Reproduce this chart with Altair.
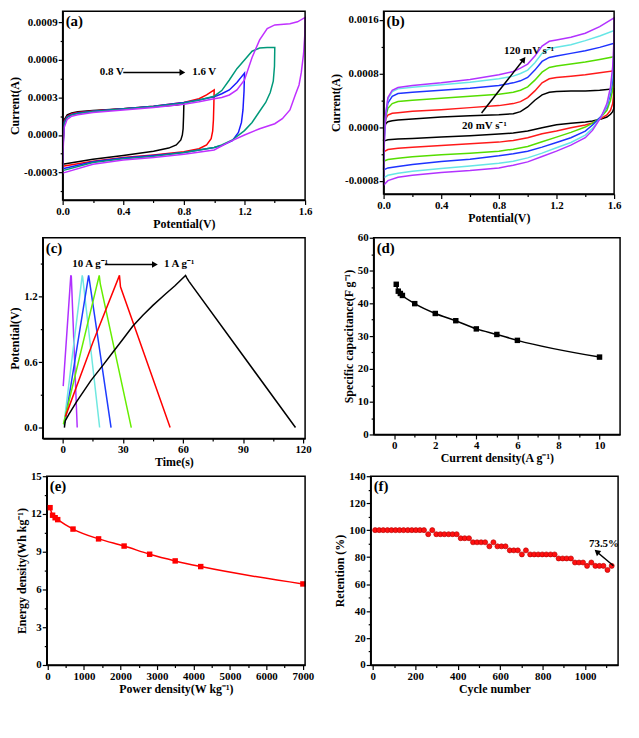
import altair as alt
import pandas as pd

FONT = "Liberation Serif"
MINUS = "\u2212"

# ---------------- (a) CV at different potential windows ----------------
a_names = ["0.8 V", "1.0 V", "1.2 V", "1.4 V", "1.6 V"]
a_colors = ["#000000", "#ff0000", "#1a1aff", "#00997a", "#c030ff"]
a_v = {
    "0.8 V": [0.0, 0.003, 0.01, 0.03, 0.06, 0.1, 0.2, 0.4, 0.6, 0.75, 0.8, 0.798, 0.795, 0.79, 0.78, 0.75, 0.7, 0.6, 0.4, 0.2, 0.0],
    "1.0 V": [0.0, 0.003, 0.01, 0.03, 0.06, 0.1, 0.2, 0.4, 0.6, 0.8, 0.9, 0.95, 1.0, 0.998, 0.995, 0.99, 0.98, 0.95, 0.9, 0.8, 0.6, 0.4, 0.2, 0.0],
    "1.2 V": [0.0, 0.003, 0.01, 0.03, 0.06, 0.1, 0.2, 0.4, 0.6, 0.8, 0.9, 1.0, 1.05, 1.1, 1.15, 1.2, 1.197, 1.19, 1.18, 1.16, 1.12, 1.05, 1.0, 0.8, 0.6, 0.4, 0.2, 0.0],
    "1.4 V": [0.0, 0.003, 0.01, 0.03, 0.06, 0.1, 0.2, 0.4, 0.6, 0.8, 0.9, 1.0, 1.05, 1.1, 1.15, 1.2, 1.25, 1.3, 1.35, 1.4, 1.398, 1.39, 1.37, 1.34, 1.3, 1.25, 1.2, 1.12, 1.05, 1.0, 0.8, 0.6, 0.4, 0.2, 0.0],
    "1.6 V": [0.0, 0.003, 0.01, 0.03, 0.06, 0.1, 0.2, 0.4, 0.6, 0.8, 0.9, 1.0, 1.05, 1.1, 1.15, 1.2, 1.25, 1.3, 1.35, 1.4, 1.5, 1.55, 1.6, 1.598, 1.59, 1.575, 1.56, 1.535, 1.5, 1.45, 1.4, 1.3, 1.2, 1.1, 1.0, 0.8, 0.6, 0.4, 0.2, 0.0],
}
# currents in units of 1e-4 A
a_i = {
    "0.8 V": [-2.35, -0.5, 1.2, 1.6, 1.75, 1.85, 1.95, 2.1, 2.25, 2.4, 2.5, 1.5, 0.5, 0.0, -0.4, -0.8, -1.05, -1.3, -1.65, -1.95, -2.35],
    "1.0 V": [-2.5, -0.6, 1.1, 1.5, 1.7, 1.8, 1.92, 2.1, 2.3, 2.6, 2.9, 3.2, 3.6, 2.5, 1.2, 0.3, -0.3, -0.8, -1.1, -1.35, -1.6, -1.8, -2.1, -2.5],
    "1.2 V": [-2.7, -0.8, 1.0, 1.45, 1.65, 1.75, 1.9, 2.1, 2.3, 2.6, 2.8, 3.05, 3.3, 3.6, 4.2, 4.95, 3.5, 2.0, 1.0, 0.2, -0.45, -0.85, -1.0, -1.4, -1.65, -1.85, -2.15, -2.7],
    "1.4 V": [-2.85, -0.9, 0.9, 1.4, 1.6, 1.72, 1.88, 2.08, 2.28, 2.55, 2.8, 3.1, 3.55, 4.4, 5.3, 6.0, 6.7, 6.95, 7.0, 7.0, 5.5, 4.3, 3.4, 2.6, 1.9, 1.0, 0.35, -0.4, -0.8, -1.0, -1.4, -1.7, -1.9, -2.2, -2.85],
    "1.6 V": [-3.05, -1.2, 0.6, 1.25, 1.5, 1.62, 1.8, 2.0, 2.2, 2.45, 2.65, 2.9, 3.0, 3.2, 3.6, 4.4, 6.2, 7.6, 8.5, 8.8, 8.9, 9.05, 9.4, 8.0, 6.5, 5.0, 4.0, 3.2, 2.0, 1.3, 0.9, 0.5, 0.0, -0.55, -1.2, -1.55, -1.8, -2.0, -2.35, -3.05],
}
a_xticks = [0.0, 0.2, 0.4, 0.6, 0.8, 1.0, 1.2, 1.4, 1.6]
a_yticks = [-0.00045, -0.0003, -0.00015, 0.0, 0.00015, 0.0003, 0.00045, 0.0006, 0.00075, 0.0009]

# ---------------- (b) CV at different scan rates ----------------
b_names = ["20", "40", "60", "80", "100", "120"]
b_colors = ["#000000", "#ff1a1a", "#55dd00", "#1e33ff", "#66e6e6", "#b233ff"]
b_up_v = [0.0, 0.005, 0.015, 0.03, 0.06, 0.1, 0.2, 0.4, 0.6, 0.8, 0.9, 0.95, 1.0, 1.05, 1.1, 1.15, 1.2, 1.3, 1.4, 1.5, 1.6]
b_dn_v = [1.6, 1.598, 1.59, 1.575, 1.55, 1.51, 1.45, 1.4, 1.3, 1.2, 1.1, 1.0, 0.9, 0.8, 0.6, 0.4, 0.2, 0.1, 0.03, 0.0]
# currents in units of 1e-4 A
b_up_i = {
    "20": [-2.1, -0.5, 0.5, 0.8, 0.95, 1.05, 1.2, 1.5, 1.7, 1.85, 2.0, 2.3, 3.0, 4.0, 4.8, 5.2, 5.3, 5.4, 5.4, 5.5, 5.7],
    "40": [-3.7, -0.5, 1.2, 1.8, 2.05, 2.15, 2.35, 2.6, 2.9, 3.2, 3.5, 3.8, 4.4, 5.4, 6.6, 7.2, 7.4, 7.6, 7.8, 8.1, 8.4],
    "60": [-5.1, -1.0, 1.5, 2.8, 3.5, 3.8, 4.0, 4.3, 4.6, 4.9, 5.2, 5.5, 6.0, 7.0, 8.2, 8.9, 9.1, 9.4, 9.7, 10.1, 10.5],
    "80": [-6.4, -1.5, 1.8, 3.6, 4.6, 5.0, 5.2, 5.5, 5.8, 6.2, 6.6, 6.9, 7.4, 8.5, 9.8, 10.4, 10.6, 11.0, 11.4, 11.9, 12.5],
    "100": [-7.6, -2.0, 2.0, 4.2, 5.3, 5.7, 5.95, 6.3, 6.7, 7.2, 7.6, 8.0, 8.5, 9.6, 11.0, 11.7, 11.9, 12.3, 12.9, 13.6, 14.4],
    "120": [-8.7, -2.5, 2.0, 4.4, 5.5, 5.9, 6.2, 6.6, 7.1, 7.8, 8.3, 8.8, 9.4, 10.6, 12.1, 12.8, 13.0, 13.4, 14.0, 15.0, 16.3],
}
b_dn_i = {
    "20": [3.5, 2.8, 2.3, 1.9, 1.5, 1.2, 0.9, 0.75, 0.55, 0.35, -0.1, -0.6, -0.9, -1.05, -1.3, -1.5, -1.7, -1.8, -1.9, -2.1],
    "40": [7.0, 5.0, 3.5, 2.5, 1.8, 1.3, 0.6, 0.3, -0.1, -0.6, -1.0, -1.6, -2.0, -2.25, -2.5, -2.75, -3.0, -3.15, -3.35, -3.7],
    "60": [10.5, 8.0, 5.5, 4.0, 2.5, 1.5, 0.6, 0.0, -0.8, -1.5, -2.2, -2.9, -3.3, -3.6, -3.9, -4.15, -4.45, -4.65, -4.85, -5.1],
    "80": [12.5, 9.5, 7.0, 5.0, 3.0, 1.6, 0.3, -0.6, -1.6, -2.3, -3.0, -3.6, -4.0, -4.3, -4.8, -5.15, -5.6, -5.9, -6.1, -6.4],
    "100": [14.4, 11.0, 8.0, 5.5, 3.2, 1.5, -0.2, -1.2, -2.3, -3.1, -3.9, -4.6, -5.1, -5.4, -5.8, -6.2, -6.6, -6.9, -7.2, -7.6],
    "120": [16.3, 12.5, 9.0, 6.0, 3.5, 1.5, -0.5, -1.6, -2.7, -3.6, -4.4, -5.2, -5.7, -6.1, -6.5, -6.8, -7.2, -7.5, -8.0, -8.7],
}
b_yticks = [-0.0008, -0.0004, 0.0, 0.0004, 0.0008, 0.0012, 0.0016]

# ---------------- (c) GCD curves ----------------
c_names = ["10", "8", "6", "4", "2", "1"]
c_colors = ["#b030ff", "#70e8e0", "#1e3cff", "#66ee00", "#ff0000", "#000000"]
c_t = {
    "10": [0.2, 4.0, 4.25, 7.2],
    "8": [0.5, 9.7, 9.95, 18.4],
    "6": [1.0, 12.9, 13.2, 24.1],
    "4": [0.3, 18.2, 18.7, 34.2],
    "2": [1.3, 15.0, 28.3, 28.8, 53.6],
    "1": [0.8, 1.2, 3, 7, 14, 20, 25, 30, 35, 40, 45, 51, 56, 61.3, 62.0, 63.0, 116.2],
}
c_v = {
    "10": [0.38, 1.395, 1.385, 0.0],
    "8": [0.02, 1.395, 1.375, 0.0],
    "6": [0.04, 1.395, 1.36, 0.0],
    "4": [0.03, 1.395, 1.32, 0.0],
    "2": [0.1, 0.78, 1.395, 1.29, 0.0],
    "1": [0.0, 0.06, 0.12, 0.24, 0.43, 0.57, 0.69, 0.81, 0.93, 1.03, 1.12, 1.22, 1.30, 1.395, 1.37, 1.34, 0.0],
}
c_xticks = [0, 15, 30, 45, 60, 75, 90, 105, 120]
c_yticks = [0.0, 0.3, 0.6, 0.9, 1.2, 1.5]

# ---------------- (d) specific capacitance ----------------
d_x = [0.1, 0.2, 0.3, 0.4, 1, 2, 3, 4, 5, 6, 10]
d_y = [45.8, 43.7, 43.0, 42.4, 39.9, 36.9, 34.7, 32.2, 30.5, 28.7, 23.6]
d_xticks = [0, 1, 2, 3, 4, 5, 6, 7, 8, 9, 10]
d_yticks = [0, 5, 10, 15, 20, 25, 30, 35, 40, 45, 50, 55, 60]

# ---------------- (e) Ragone ----------------
e_x = [70, 140, 210, 280, 700, 1400, 2100, 2800, 3500, 4200, 7000]
e_y = [12.5, 11.9, 11.7, 11.55, 10.8, 10.02, 9.45, 8.8, 8.27, 7.82, 6.44]
e_xticks = [0, 500, 1000, 1500, 2000, 2500, 3000, 3500, 4000, 4500, 5000, 5500, 6000, 6500, 7000]
e_yticks = [0, 1.5, 3, 4.5, 6, 7.5, 9, 10.5, 12, 13.5, 15]

# ---------------- (f) cycling ----------------
f_x = [11, 30, 49, 69, 88, 107, 126, 145, 165, 184, 203, 222, 241, 261, 280, 299, 318, 337, 357, 376,
       395, 414, 433, 453, 472, 491, 510, 529, 549, 568, 587, 606, 625, 645, 664, 683, 702, 721, 741, 760,
       779, 798, 817, 837, 856, 875, 894, 913, 933, 952, 971, 990, 1009, 1029, 1048, 1067, 1086, 1105, 1125]
f_y = [100, 100, 100, 100, 100, 100, 100, 100, 100, 100, 100, 100, 100, 97, 100, 97, 97, 97, 97, 97,
       97, 94, 94, 94, 91, 91, 91, 91, 88, 91, 88, 88, 88, 85, 85, 85, 82, 85, 82, 82,
       82, 82, 82, 82, 82, 79, 79, 79, 79, 76, 76, 76, 73.5, 76, 73.5, 73.5, 73.5, 70.5, 73.5]
f_xticks = [0, 100, 200, 300, 400, 500, 600, 700, 800, 900, 1000, 1100]
f_yticks = [0, 10, 20, 30, 40, 50, 60, 70, 80, 90, 100, 110, 120, 130, 140]


def ax(title, values, step, fmt, offset=0):
    t = f"abs(datum.value/{step}-round(datum.value/{step}))<1e-6"
    return alt.Axis(
        title=title, values=values, grid=False, labelFlush=False, labelOverlap=False,
        labelExpr=f"{t} ? replace(format(datum.value,'{fmt}'),'{MINUS}','-') : ''",
        tickSize={"condition": {"test": t, "value": 4.5}, "value": 2.5},
        offset=offset)


class Panel:
    """One framed panel; the plot frame starts `s` px left of the layout origin."""

    def __init__(self, xdom, ydom, xa, ya, W, H, s):
        self.W, self.H, self.s = W, H, s
        self.xs = alt.Scale(domain=xdom, range=[-s, W], nice=False, zero=False)
        self.ys = alt.Scale(domain=ydom, nice=False, zero=False)
        self.xa = ax(*xa)
        self.ya = ax(*ya, offset=s)

    def X(self, f="x:Q"):
        return alt.X(f, scale=self.xs, axis=self.xa)

    def Y(self, f="y:Q"):
        return alt.Y(f, scale=self.ys, axis=self.ya)

    def texts(self, df, size=11):
        return alt.Chart(df).mark_text(
            align="left", baseline="middle", font=FONT, fontWeight="bold", fontSize=size, color="black"
        ).encode(x=self.X(), y=self.Y(), text="t:N")

    def rule(self, df):
        return alt.Chart(df).mark_rule(color="black", strokeWidth=1.5).encode(
            x=self.X(), x2="x2:Q", y=self.Y(), y2="y2:Q")

    def head(self, df, shape, angle=0):
        return alt.Chart(df).mark_point(
            shape=shape, angle=angle, filled=True, size=45, color="black", opacity=1
        ).encode(x=self.X(), y=self.Y())

    def frame(self):
        return alt.Chart(pd.DataFrame({"k": [0]})).mark_rect(
            fillOpacity=0, stroke="black", strokeWidth=1.5
        ).encode(x=alt.value(-self.s), x2=alt.value(self.W), y=alt.value(0), y2=alt.value(self.H))

    def tag(self, s):
        return alt.Chart(pd.DataFrame({"t": [s]})).mark_text(
            align="left", baseline="top", font=FONT, fontWeight="bold", fontSize=15, color="black"
        ).encode(x=alt.value(3 - self.s), y=alt.value(3), text="t:N")

    def done(self, *layers):
        return alt.layer(*layers, self.frame()).properties(width=self.W, height=self.H)


def build(names, xs_d, ys_d):
    rows = []
    for n in names:
        for k, (x, y) in enumerate(zip(xs_d[n], ys_d[n])):
            rows.append({"s": n, "x": x, "y": y, "o": k})
    return pd.DataFrame(rows)


# ---- panel a
a_df = build(a_names, a_v, {n: [v * 1e-4 for v in a_i[n]] for n in a_names})
A = Panel([0, 1.6], [-0.00052, 0.00099],
          ("Potential(V)", a_xticks, 0.4, ".1f"), ("Current(A)", a_yticks, 0.0003, ".4f"),
          W=244, H=190, s=0)
pa = A.done(
    alt.Chart(a_df).mark_line(strokeWidth=1.5).encode(
        x=A.X(), y=A.Y(),
        color=alt.Color("s:N", scale=alt.Scale(domain=a_names, range=a_colors), legend=None),
        order="o:Q"),
    A.rule(pd.DataFrame({"x": [0.40], "x2": [0.775], "y": [0.0005], "y2": [0.0005]})),
    A.head(pd.DataFrame({"x": [0.79], "y": [0.0005]}), "triangle-right"),
    A.texts(pd.DataFrame({"x": [0.245, 0.855], "y": [0.0005, 0.0005], "t": ["0.8 V", "1.6 V"]})),
    A.tag("(a)"),
)

# ---- panel b
b_v = {n: b_up_v + b_dn_v for n in b_names}
b_i = {n: [v * 1e-4 for v in b_up_i[n] + b_dn_i[n]] for n in b_names}
b_df = build(b_names, b_v, b_i)
B = Panel([0, 1.6], [-0.001, 0.00173],
          ("Potential(V)", a_xticks, 0.4, ".1f"), ("Current(A)", b_yticks, 0.0008, ".4f"),
          W=232, H=184, s=0)
pb = B.done(
    alt.Chart(b_df).mark_line(strokeWidth=1.5).encode(
        x=B.X(), y=B.Y(),
        color=alt.Color("s:N", scale=alt.Scale(domain=b_names, range=b_colors), legend=None),
        order="o:Q"),
    B.rule(pd.DataFrame({"x": [0.68], "x2": [0.965], "y": [0.00021], "y2": [0.00099]})),
    B.head(pd.DataFrame({"x": [0.972], "y": [0.00101]}), "triangle-up", 37),
    B.texts(pd.DataFrame({"x": [0.836, 0.545], "y": [0.00113, 0.00002],
                          "t": ["120 mV s\u207b\u00b9", "20 mV s\u207b\u00b9"]})),
    B.tag("(b)"),
)

# ---- panel c
c_df = build(c_names, c_t, c_v)
C = Panel([-10, 121], [-0.1, 1.74],
          ("Time(s)", c_xticks, 30, "d"), ("Potential(V)", c_yticks, 0.6, ".1f"),
          W=244, H=202, s=20)
pc = C.done(
    alt.Chart(c_df).mark_line(strokeWidth=1.5).encode(
        x=C.X(), y=C.Y(),
        color=alt.Color("s:N", scale=alt.Scale(domain=c_names, range=c_colors), legend=None),
        order="o:Q"),
    C.rule(pd.DataFrame({"x": [21], "x2": [45], "y": [1.495], "y2": [1.495]})),
    C.head(pd.DataFrame({"x": [46], "y": [1.495]}), "triangle-right"),
    C.texts(pd.DataFrame({"x": [4.7, 50.5], "y": [1.495, 1.495],
                          "t": ["10 A g\u207b\u00b9", "1 A g\u207b\u00b9"]})),
    C.tag("(c)"),
)

# ---- panel d
d_df = pd.DataFrame({"x": d_x, "y": d_y})
D = Panel([-1, 11], [0, 60],
          ("Current density(A g\u207b\u00b9)", d_xticks, 2, "d"),
          ("Specific capacitance(F g\u207b\u00b9)", d_yticks, 10, "d"),
          W=238, H=198, s=10)
d_base = alt.Chart(d_df).encode(x=D.X(), y=D.Y())
pd_ = D.done(
    d_base.mark_line(color="black", strokeWidth=1.5, interpolate="monotone"),
    d_base.mark_square(color="black", size=30, opacity=1),
    D.tag("(d)"),
)

# ---- panel e
e_df = pd.DataFrame({"x": e_x, "y": e_y})
E = Panel([-20, 7060], [0, 15],
          ("Power density(W kg\u207b\u00b9)", e_xticks, 1000, "d"),
          ("Energy density(Wh kg\u207b\u00b9)", e_yticks, 3, "d"),
          W=244, H=190, s=16)
e_base = alt.Chart(e_df).encode(x=E.X(), y=E.Y())
pe = E.done(
    e_base.mark_line(color="#ff0000", strokeWidth=1.5, interpolate="monotone"),
    e_base.mark_square(color="#ff0000", size=30, opacity=1),
    E.tag("(e)"),
)

# ---- panel f
f_df = pd.DataFrame({"x": f_x, "y": f_y})
F = Panel([-10, 1155], [0, 140],
          ("Cycle number", f_xticks, 200, "d"), ("Retention (%)", f_yticks, 20, "d"),
          W=236, H=190, s=13)
pf = F.done(
    alt.Chart(f_df).mark_circle(size=26, color="#ff1010", opacity=1, stroke="#b00000", strokeWidth=0.6).encode(
        x=F.X(), y=F.Y()),
    F.rule(pd.DataFrame({"x": [1133], "x2": [1060], "y": [73.6], "y2": [83.2]})),
    F.head(pd.DataFrame({"x": [1055], "y": [84]}), "triangle-up", 310),
    F.texts(pd.DataFrame({"x": [1018], "y": [90], "t": ["73.5%"]})),
    F.tag("(f)"),
)

chart = alt.concat(
    pa, pb, pc, pd_, pe, pf, columns=2, spacing={"row": 2, "column": 4}
).resolve_scale(color="independent").properties(
    padding={"top": 0, "left": 0, "right": 0, "bottom": 0}
).configure(font=FONT).configure_view(stroke=None).configure_axis(
    labelFont=FONT, titleFont=FONT, labelFontSize=11, titleFontSize=12,
    labelFontWeight="bold", titleFontWeight="bold", labelColor="black", titleColor="black",
    domainColor="black", tickColor="black", domainWidth=1.5, tickWidth=1.2,
    labelPadding=1, titlePadding=2,
)

chart.save("out.html", embed_options={"renderer": "svg", "actions": False})
